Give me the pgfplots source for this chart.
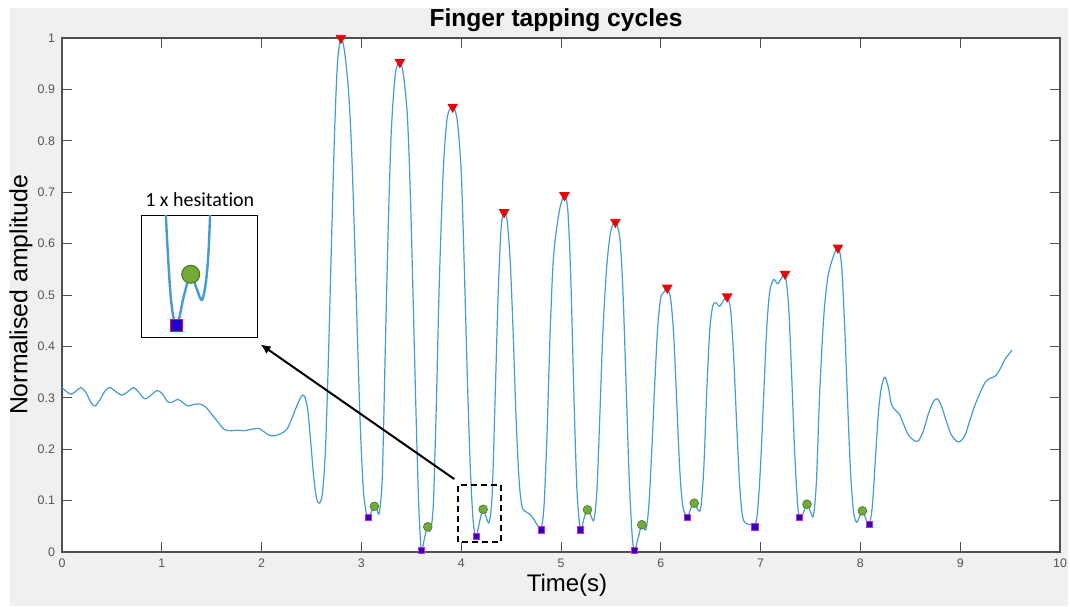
\documentclass[border=0pt]{standalone}
\usepackage{pgfplots}
\pgfplotsset{compat=1.18}
\usepackage{pgfplotstable}
\usepackage{fontspec}
\setmainfont{Liberation Sans}
\newfontfamily\calib[Ligatures={NoCommon,NoRequired,NoContextual}]{Carlito}
\usetikzlibrary{arrows.meta}
\definecolor{sig}{RGB}{70,155,210}
\definecolor{figbg}{RGB}{240,240,240}
\definecolor{axgray}{RGB}{80,80,80}
\definecolor{tickgray}{RGB}{85,85,85}
\definecolor{pkred}{RGB}{225,10,10}
\definecolor{sqfill}{RGB}{40,0,190}
\definecolor{sqedge}{RGB}{210,40,200}
\definecolor{hgreen}{RGB}{115,170,60}
\definecolor{hgreenedge}{RGB}{70,120,35}

\pgfplotstableread{
x y
0.00 0.320
0.04 0.313
0.09 0.307
0.14 0.313
0.19 0.320
0.24 0.310
0.29 0.291
0.33 0.284
0.38 0.296
0.43 0.313
0.48 0.320
0.54 0.312
0.60 0.305
0.66 0.312
0.72 0.320
0.78 0.308
0.83 0.298
0.89 0.305
0.95 0.314
1.00 0.309
1.06 0.292
1.11 0.292
1.16 0.297
1.21 0.291
1.26 0.284
1.32 0.287
1.38 0.288
1.44 0.282
1.50 0.268
1.57 0.251
1.63 0.238
1.70 0.236
1.76 0.237
1.82 0.236
1.88 0.238
1.94 0.240
1.98 0.240
2.03 0.233
2.08 0.227
2.13 0.226
2.19 0.230
2.25 0.238
2.30 0.258
2.35 0.283
2.40 0.303
2.43 0.303
2.46 0.280
2.49 0.220
2.52 0.150
2.55 0.105
2.58 0.095
2.61 0.115
2.64 0.200
2.67 0.380
2.70 0.600
2.73 0.810
2.76 0.950
2.795 1.000
2.83 0.975
2.87 0.900
2.90 0.790
2.93 0.620
2.96 0.420
2.99 0.240
3.02 0.120
3.05 0.075
3.07 0.067
3.10 0.078
3.13 0.088
3.155 0.082
3.18 0.077
3.21 0.150
3.24 0.400
3.27 0.640
3.30 0.820
3.34 0.930
3.385 0.953
3.42 0.930
3.46 0.850
3.49 0.700
3.52 0.480
3.55 0.250
3.575 0.090
3.60 0.003
3.63 0.025
3.66 0.047
3.69 0.042
3.72 0.090
3.75 0.280
3.78 0.520
3.82 0.740
3.86 0.845
3.915 0.866
3.96 0.840
4.00 0.740
4.03 0.560
4.06 0.350
4.09 0.170
4.12 0.060
4.15 0.030
4.185 0.060
4.22 0.083
4.25 0.068
4.28 0.058
4.31 0.110
4.34 0.300
4.37 0.500
4.40 0.630
4.43 0.661
4.46 0.645
4.49 0.570
4.52 0.430
4.55 0.260
4.58 0.140
4.61 0.088
4.65 0.078
4.69 0.073
4.73 0.063
4.77 0.050
4.80 0.043
4.83 0.090
4.86 0.230
4.89 0.420
4.92 0.560
4.95 0.620
4.99 0.670
5.035 0.694
5.07 0.660
5.10 0.520
5.13 0.300
5.16 0.120
5.195 0.043
5.23 0.065
5.265 0.083
5.30 0.070
5.33 0.063
5.36 0.120
5.39 0.270
5.42 0.430
5.46 0.560
5.50 0.625
5.545 0.642
5.59 0.610
5.62 0.510
5.65 0.340
5.68 0.160
5.71 0.040
5.735 0.003
5.77 0.025
5.81 0.053
5.85 0.043
5.88 0.090
5.91 0.200
5.94 0.330
5.97 0.440
6.00 0.495
6.03 0.505
6.065 0.514
6.10 0.490
6.13 0.420
6.16 0.290
6.19 0.160
6.22 0.090
6.265 0.068
6.30 0.085
6.335 0.095
6.37 0.083
6.40 0.085
6.43 0.160
6.46 0.310
6.49 0.430
6.52 0.478
6.55 0.485
6.59 0.478
6.63 0.490
6.665 0.497
6.70 0.470
6.73 0.380
6.76 0.250
6.79 0.130
6.82 0.068
6.86 0.055
6.90 0.053
6.94 0.049
6.97 0.080
7.00 0.170
7.03 0.300
7.06 0.430
7.09 0.505
7.13 0.530
7.17 0.522
7.21 0.533
7.245 0.541
7.28 0.480
7.31 0.350
7.34 0.200
7.37 0.095
7.39 0.068
7.42 0.072
7.465 0.093
7.50 0.078
7.53 0.071
7.56 0.140
7.59 0.300
7.63 0.450
7.67 0.530
7.72 0.570
7.775 0.592
7.81 0.560
7.84 0.450
7.87 0.300
7.90 0.160
7.93 0.080
7.96 0.058
7.99 0.068
8.02 0.080
8.06 0.062
8.09 0.054
8.12 0.090
8.15 0.180
8.18 0.270
8.21 0.320
8.245 0.340
8.28 0.320
8.31 0.288
8.35 0.276
8.39 0.268
8.43 0.250
8.48 0.228
8.53 0.218
8.58 0.216
8.63 0.235
8.68 0.268
8.73 0.292
8.77 0.298
8.81 0.285
8.86 0.255
8.91 0.228
8.96 0.216
9.00 0.215
9.05 0.228
9.10 0.258
9.15 0.287
9.20 0.310
9.25 0.330
9.30 0.338
9.35 0.342
9.40 0.356
9.45 0.375
9.52 0.393
}\signal

\pgfplotstableread{
x y
2.795 1.000
3.385 0.953
3.915 0.866
4.43 0.661
5.035 0.694
5.545 0.642
6.065 0.514
6.665 0.497
7.245 0.541
7.775 0.592
}\peaks

\pgfplotstableread{
x y
3.07 0.067
3.60 0.003
4.15 0.030
4.80 0.043
5.195 0.043
5.735 0.003
6.265 0.068
6.94 0.049
7.39 0.068
8.09 0.054
}\minima

\pgfplotstableread{
x y
3.13 0.089
3.665 0.049
4.22 0.083
5.265 0.082
5.81 0.053
6.335 0.095
7.465 0.093
8.02 0.080
}\hesit

\begin{document}
\begin{tikzpicture}
\path[use as bounding box] (-31pt,-27pt) rectangle (504pt,276pt);
\fill[figbg] (-26pt,-27pt) rectangle (503pt,272pt);
\begin{axis}[
  at={(0pt,0pt)}, anchor=south west,
  scale only axis, width=499pt, height=257pt,
  xmin=0, xmax=10, ymin=0, ymax=1,
  xtick={0,1,2,3,4,5,6,7,8,9,10},
  ytick={0,0.1,0.2,0.3,0.4,0.5,0.6,0.7,0.8,0.9,1},
  yticklabels={0,0.1,0.2,0.3,0.4,0.5,0.6,0.7,0.8,0.9,1},
  xticklabels={0,1,2,3,4,5,6,7,8,9,10},
  tick label style={font=\fontsize{6.2}{7}\selectfont, text=tickgray},
  /pgf/number format/assume math mode=true,
  tick align=inside, major tick length=5pt,
  axis line style={draw=axgray, line width=0.6pt},
  every tick/.style={draw=axgray, line width=0.5pt},
  axis background/.style={fill=white},
  clip mode=individual,
  title={Finger tapping cycles},
  every axis title/.style={at={(axis description cs:0.495,1)}, anchor=base, yshift=5.5pt, font=\bfseries\fontsize{12.3}{14}\selectfont},
  xlabel={Time(s)},
  every axis x label/.style={at={(axis description cs:0.506,0)}, anchor=center, yshift=-16.5pt, font=\fontsize{12}{14}\selectfont},
  ylabel={Normalised amplitude},
  every axis y label/.style={at={(axis description cs:-0.041,0.5)}, anchor=center, rotate=90, font=\fontsize{12.4}{14}\selectfont},
]
\addplot[sig, line width=0.6pt, smooth, tension=0.5, mark=none] table {\signal};
\addplot[only marks, mark=triangle*, mark size=2.7pt, mark options={rotate=180, fill=pkred, draw=pkred}] table {\peaks};
\addplot[only marks, mark=square*, mark size=1.6pt, mark options={fill=sqfill, draw=sqedge, line width=0.3pt}] table {\minima};
\addplot[only marks, mark=*, mark size=2.2pt, mark options={fill=hgreen, draw=hgreenedge, line width=0.3pt}] table {\hesit};
\draw[black, line width=0.8pt, dash pattern=on 3pt off 2pt] (axis cs:3.97,0.019) rectangle (axis cs:4.40,0.130);
\draw[black, line width=1pt, -{Latex[length=5pt,width=4.5pt]}] (axis cs:3.93,0.142) -- (axis cs:1.99,0.404);
\end{axis}
\begin{axis}[
  at={(39.85pt,107.35pt)}, anchor=south west,
  scale only axis, width=58pt, height=60.8pt,
  xmin=3.975, xmax=4.555, ymin=0.018, ymax=0.1434,
  ticks=none,
  axis line style={draw=black, line width=0.7pt},
  axis background/.style={fill=white},
  clip mode=individual,
  title={1 x hesitation},
  every axis title/.style={at={(axis description cs:0.5,1)}, anchor=south, inner sep=0pt, yshift=4.5pt, font=\calib\fontsize{10}{12}\selectfont},
]
\addplot[sig, line width=1.2pt, smooth, tension=0.5, mark=none] table {\signal};
\addplot[only marks, mark=*, mark size=4.5pt, mark options={fill=hgreen, draw=hgreenedge, line width=0.5pt}] coordinates {(4.22,0.083)};
\addplot[only marks, mark=square*, mark size=3pt, mark options={fill=sqfill!80!blue, draw=red!80!magenta, line width=0.6pt}] coordinates {(4.15,0.030)};
\end{axis}
\end{tikzpicture}
\end{document}
